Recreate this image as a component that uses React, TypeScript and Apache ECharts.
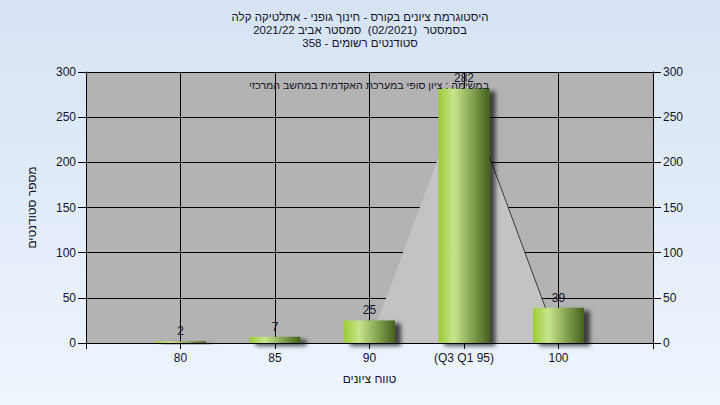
import React, { useEffect, useRef } from "react";
import * as echarts from "echarts";

const titleLines = [
  "היסטוגרמת ציונים בקורס - חינוך גופני - אתלטיקה קלה",
  "בסמסטר  (02/2021)  סמסטר אביב 2021/22",
  "סטודנטים רשומים - 358",
];
const noteText = "במשימה : ציון סופי במערכת האקדמית במחשב המרכזי";
const categories = ["", "80", "85", "90", "(Q3 Q1 95)", "100", ""];
const counts = [null, 2, 7, 25, 282, 39, null];
const shadeValues = [null, null, null, 0, 282, 0, null];
const edgeValues = [null, null, null, null, 282, 0, null];
const yAxisName = "מספר סטודנטים";
const xAxisName = "טווח ציונים";

const FONT = "'Liberation Sans', 'DejaVu Sans', sans-serif";
const TXT = "#14142a";
const RLE = "\u202B";
const PDF = "\u202C";

export default function App() {
  const ref = useRef<HTMLDivElement>(null);
  useEffect(() => {
    if (!ref.current) return;
    const chart = echarts.init(ref.current, undefined, { renderer: "svg" });
    const barColor = new echarts.graphic.LinearGradient(0, 0, 1, 0, [
      { offset: 0, color: "#9ccb38" },
      { offset: 0.3, color: "#c8e58c" },
      { offset: 0.65, color: "#86a452" },
      { offset: 1, color: "#46611c" },
    ]);
    const yAxisCommon = {
      type: "value",
      min: 0,
      max: 300,
      interval: 50,
      axisLine: { show: true, lineStyle: { color: "#000", width: 1 } },
      axisTick: { show: true, length: 8, lineStyle: { color: "#000" } },
      axisLabel: { color: TXT, fontSize: 12, fontFamily: FONT, margin: 10 },
    };
    const titleY = [17, 30, 43];
    chart.setOption({
      animation: false,
      textStyle: { fontFamily: FONT },
      grid: { left: 86, right: 67, top: 72, bottom: 62, show: true, backgroundColor: "#b3b3b3", borderWidth: 0 },
      xAxis: {
        type: "category",
        data: categories,
        boundaryGap: false,
        name: xAxisName,
        nameLocation: "middle",
        nameGap: 30,
        nameTextStyle: { color: TXT, fontSize: 12, fontFamily: FONT },
        axisLine: { lineStyle: { color: "#000" } },
        axisTick: { show: true, length: 6, alignWithLabel: true, lineStyle: { color: "#000" } },
        axisLabel: { color: TXT, fontSize: 12, fontFamily: FONT, margin: 9, interval: 0 },
        splitLine: { show: true, lineStyle: { color: "#000", width: 1 } },
      },
      yAxis: [
        {
          ...yAxisCommon,
          position: "left",
          name: yAxisName,
          nameLocation: "middle",
          nameGap: 48,
          nameTextStyle: { color: TXT, fontSize: 12, fontFamily: FONT },
          splitLine: { show: true, lineStyle: { color: "#000", width: 1 } },
        },
        {
          ...yAxisCommon,
          position: "right",
          splitLine: { show: false },
        },
      ],
      graphic: [
        ...titleLines.map((t, i) => ({
          type: "text",
          x: 360,
          y: titleY[i],
          z: 10,
          style: {
            text: RLE + t + PDF,
            fill: TXT,
            font: `11.5px ${FONT}`,
            textAlign: "center",
            textVerticalAlign: "middle",
          },
        })),
        {
          type: "text",
          x: 489,
          y: 85,
          z: 10,
          style: {
            text: RLE + noteText + PDF,
            fill: TXT,
            font: `10.6px ${FONT}`,
            textAlign: "right",
            textVerticalAlign: "middle",
          },
        },
      ],
      series: [
        {
          type: "line",
          data: shadeValues,
          symbol: "none",
          lineStyle: { width: 0, opacity: 0 },
          areaStyle: { color: "#c3c3c3", opacity: 1 },
          z: 2,
          silent: true,
        },
        {
          type: "line",
          data: edgeValues,
          symbol: "none",
          lineStyle: { width: 1, color: "#3a3a3a" },
          z: 2,
          silent: true,
        },
        {
          type: "bar",
          data: counts,
          barWidth: 51,
          z: 3,
          itemStyle: {
            color: barColor,
            shadowColor: "rgba(0,0,0,0.65)",
            shadowBlur: 4,
            shadowOffsetX: 6,
            shadowOffsetY: 3,
          },
          label: {
            show: true,
            position: "top",
            distance: 4,
            color: TXT,
            fontSize: 12,
            fontFamily: FONT,
          },
        },
      ],
    });
    return () => chart.dispose();
  }, []);
  return (
    <div
      style={{
        position: "fixed",
        left: 0,
        top: 0,
        width: 720,
        height: 405,
        background: "linear-gradient(180deg, #d6e3f4 0%, #eef5fd 100%)",
      }}
    >
      <div ref={ref} style={{ width: 720, height: 405 }} />
    </div>
  );
}
